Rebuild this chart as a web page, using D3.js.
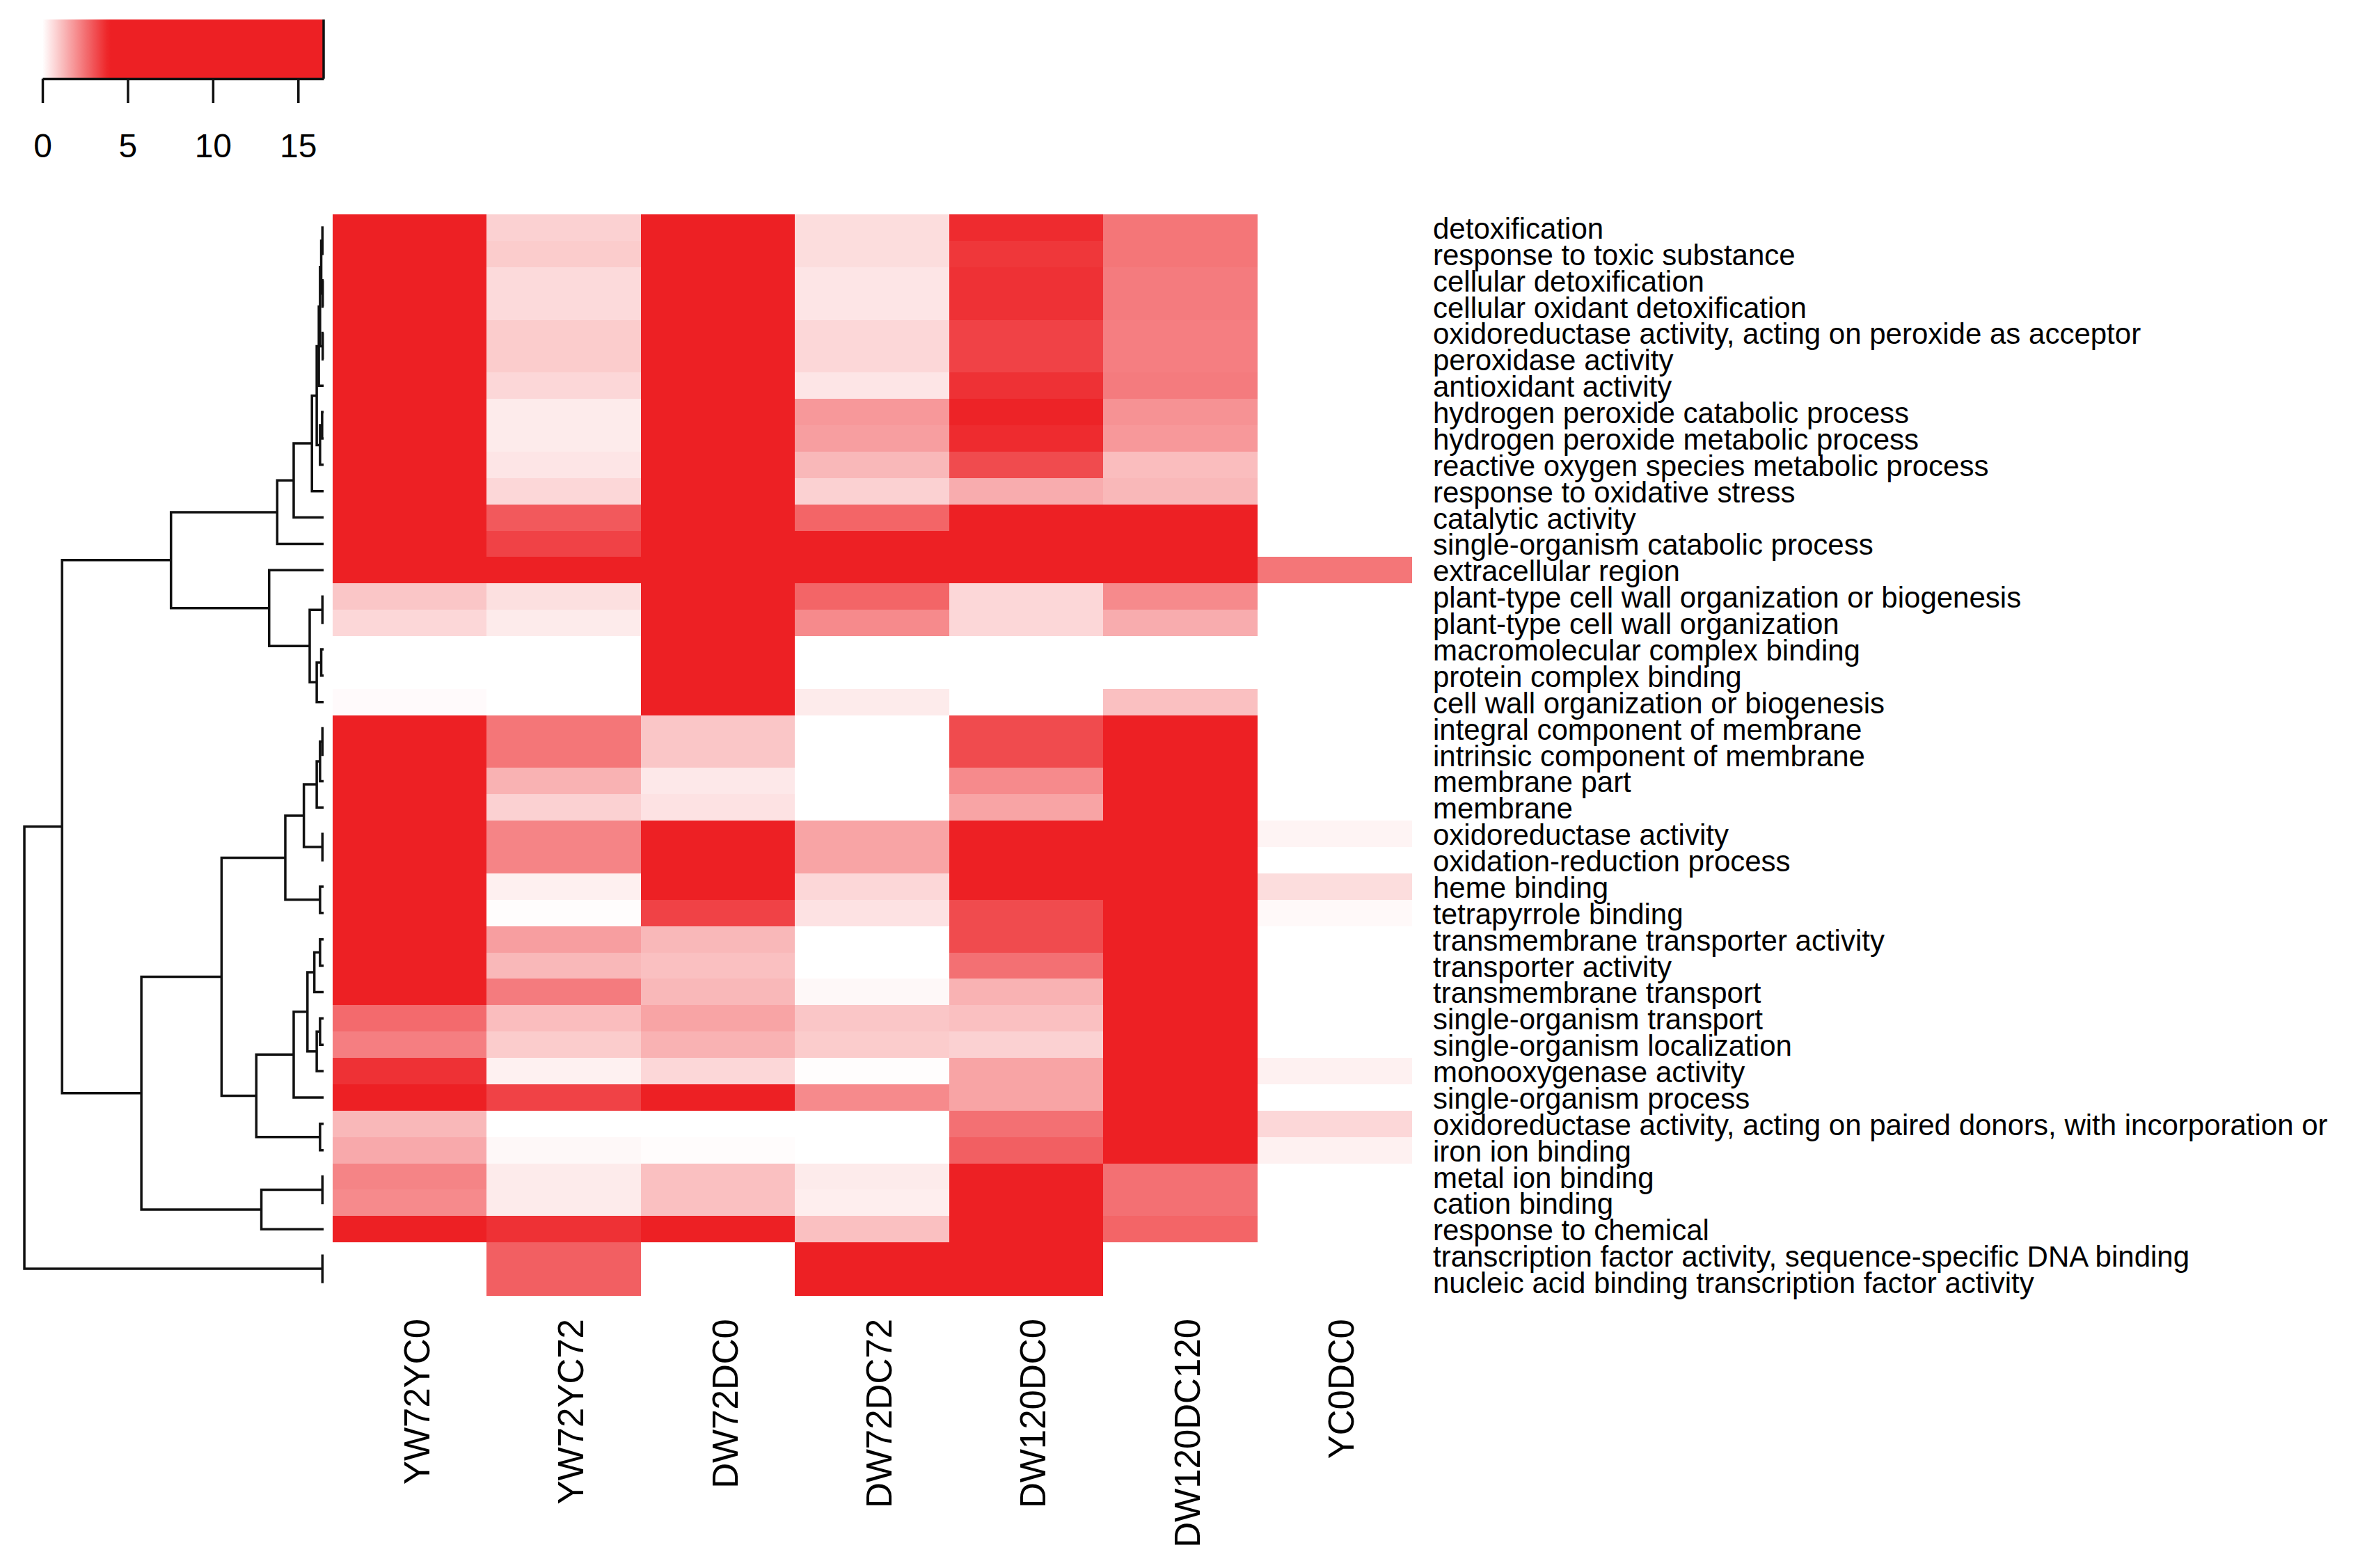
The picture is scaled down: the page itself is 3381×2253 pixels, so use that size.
<!DOCTYPE html>
<html>
<head>
<meta charset="utf-8">
<script src="https://cdn.jsdelivr.net/npm/d3@7"></script>
<style>
  body { margin: 0; background: #fff; }
  text { font-family: "Liberation Sans", Arial, sans-serif; fill: #000; }
</style>
</head>
<body>
<div id="graph"></div>
<script>
// GO terms (rows, top to bottom) and comparisons (columns)
const rowLabels = [
  'detoxification',
  'response to toxic substance',
  'cellular detoxification',
  'cellular oxidant detoxification',
  'oxidoreductase activity, acting on peroxide as acceptor',
  'peroxidase activity',
  'antioxidant activity',
  'hydrogen peroxide catabolic process',
  'hydrogen peroxide metabolic process',
  'reactive oxygen species metabolic process',
  'response to oxidative stress',
  'catalytic activity',
  'single-organism catabolic process',
  'extracellular region',
  'plant-type cell wall organization or biogenesis',
  'plant-type cell wall organization',
  'macromolecular complex binding',
  'protein complex binding',
  'cell wall organization or biogenesis',
  'integral component of membrane',
  'intrinsic component of membrane',
  'membrane part',
  'membrane',
  'oxidoreductase activity',
  'oxidation-reduction process',
  'heme binding',
  'tetrapyrrole binding',
  'transmembrane transporter activity',
  'transporter activity',
  'transmembrane transport',
  'single-organism transport',
  'single-organism localization',
  'monooxygenase activity',
  'single-organism process',
  'oxidoreductase activity, acting on paired donors, with incorporation or',
  'iron ion binding',
  'metal ion binding',
  'cation binding',
  'response to chemical',
  'transcription factor activity, sequence-specific DNA binding',
  'nucleic acid binding transcription factor activity'
]

const colLabels = ['YW72YC0', 'YW72YC72', 'DW72DC0', 'DW72DC72', 'DW120DC0', 'DW120DC120', 'YC0DC0']

// one array per column
const YW72YC0 = [12.1, 12.4, 11.8, 11.8, 11.5, 11.5, 10.9, 9.6, 9.6, 8.9, 7.2, 6.5, 8.1, 14.2,
  1.0, 0.7, 0, 0, 0.08,
  6.8, 6.8, 5.9, 5.9, 7.4, 7.4, 6.1, 6.1, 5.2, 5.2, 4.9,
  2.6, 2.25, 3.6, 4.6, 1.25, 1.5, 2.15, 2.05, 5.1, 0, 0]
const YW72YC72 = [0.8, 0.9, 0.65, 0.65, 0.9, 0.9, 0.7, 0.35, 0.35, 0.45, 0.7, 2.9, 3.3, 4.3,
  0.55, 0.35, 0, 0, 0,
  2.4, 2.4, 1.35, 0.8, 2.15, 2.15, 0.27, 0.03, 1.7, 1.25, 2.3,
  1.15, 0.9, 0.25, 3.3, 0, 0.12, 0.35, 0.35, 3.6, 2.8, 2.8]
const DW72DC0 = [16.3, 16.3, 15.9, 15.9, 15.2, 15.2, 14.8, 13.1, 13.1, 12.6, 10.4, 8.7, 9.9, 11.2,
  9.3, 9.3, 15.7, 15.7, 12.8,
  1.0, 1.0, 0.4, 0.5, 5.6, 5.6, 4.4, 3.3, 1.25, 1.1, 1.25,
  1.6, 1.35, 0.7, 4.2, 0, 0.05, 1.1, 1.1, 4.0, 0, 0]
const DW72DC72 = [0.6, 0.6, 0.45, 0.45, 0.7, 0.7, 0.45, 1.8, 1.7, 1.25, 0.8, 2.7, 4.5, 6.2,
  2.7, 2.05, 0, 0, 0.35,
  0, 0, 0, 0, 1.6, 1.6, 0.7, 0.5, 0, 0, 0.12,
  1.0, 0.9, 0.04, 2.05, 0, 0, 0.35, 0.3, 1.1, 5.4, 5.4]
const DW120DC0 = [3.7, 3.5, 3.6, 3.6, 3.3, 3.3, 3.6, 3.85, 3.7, 3.15, 1.45, 4.8, 5.6, 7.3,
  0.7, 0.7, 0, 0, 0,
  3.15, 3.15, 2.05, 1.6, 5.3, 5.3, 4.6, 3.15, 3.15, 2.5, 1.35,
  1.1, 0.8, 1.6, 1.6, 2.5, 2.8, 6.9, 6.9, 5.8, 4.7, 4.7]
const DW120DC120 = [2.4, 2.4, 2.3, 2.3, 2.25, 2.25, 2.3, 1.9, 1.8, 1.15, 1.25, 4.4, 5.0, 6.6,
  2.05, 1.45, 0, 0, 1.1,
  8.2, 8.2, 7.5, 7.5, 9.1, 9.1, 8.4, 8.4, 7.7, 7.7, 7.1,
  6.2, 6.2, 5.7, 5.4, 6.5, 6.5, 2.5, 2.5, 2.7, 0, 0]
const YC0DC0 = [0, 0, 0, 0, 0, 0, 0, 0, 0, 0, 0, 0, 0, 2.4,
  0, 0, 0, 0, 0,
  0, 0, 0, 0, 0.2, 0, 0.6, 0.1, 0, 0, 0,
  0, 0, 0.25, 0, 0.7, 0.25, 0, 0, 0, 0, 0]

// row dendrogram, hclust style: negative = leaf (row number), positive = earlier merge
const mergeLeft = [-1, -3, 1, -5, 3, 5, -8, 7, 6, 9, 10, 11, -15, -17, 14, 13, -14, 12,
  -20, 19, 20, -24, 21, -26, 23, -28, 26, -31, 28, 27, 30, -35, 31, 25, -37, 35, 34, 18, -40, 38]
const mergeRight = [-2, -4, 2, -6, 4, -7, -9, -10, 8, -11, -12, -13, -16, -18, -19, 15, 16, 17,
  -21, -22, -23, -25, 22, -27, 24, -29, -30, -32, -33, 29, -34, -36, 32, 33, -38, -39, 36, 37, -41, 39]
const mergeHeight = [0.004, 0.003, 0.008, 0.003, 0.012, 0.016, 0.005, 0.012, 0.023, 0.039, 0.10, 0.155,
  0.004, 0.008, 0.023, 0.0465, 0.182, 0.51,
  0.004, 0.012, 0.023, 0.004, 0.066, 0.012, 0.128, 0.012, 0.031, 0.012, 0.023, 0.054, 0.10,
  0.012, 0.225, 0.341, 0.004, 0.208, 0.609, 0.874, 0.004, 1.0]

const keyTicks = [0, 5, 10, 15]
const keyMax = 16.5

const columns = [YW72YC0, YW72YC72, DW72DC0, DW72DC72, DW120DC0, DW120DC120, YC0DC0]
const cells = []
columns.forEach((col, j) => {
  col.forEach((v, i) => cells.push({ row: i, col: colLabels[j], value: v }))
})

const totalWidth = 3381
const totalHeight = 2253

const svg = d3.select('#graph').append('svg')
  .attr('width', totalWidth)
  .attr('height', totalHeight)
  .style('display', 'block')
  .style('background-color', '#fff')

const x = d3.scaleBand().domain(colLabels).range([478, 2028])
const y = d3.scaleBand().domain(d3.range(rowLabels.length)).range([308, 1861])
const color = d3.scaleLinear()
  .domain([0, 3.9, keyMax])
  .range(['#ffffff', '#ed2024', '#ed2024'])
  .interpolate(d3.interpolateRgb)
  .clamp(true)

// heatmap cells
svg.append('g')
  .selectAll('rect')
  .data(cells)
  .enter()
  .append('rect')
  .attr('x', d => x(d.col))
  .attr('y', d => y(d.row))
  .attr('width', x.bandwidth() + 0.6)
  .attr('height', y.bandwidth() + 0.6)
  .attr('fill', d => color(d.value))
  .attr('shape-rendering', 'crispEdges')

// row labels
svg.append('g')
  .selectAll('text')
  .data(rowLabels)
  .enter()
  .append('text')
  .attr('x', 2059)
  .attr('y', (d, i) => y(i) + y.bandwidth() / 2 + 16)
  .style('font-size', '42px')
  .text(d => d)

// column labels, rotated
svg.append('g')
  .selectAll('text')
  .data(colLabels)
  .enter()
  .append('text')
  .attr('transform', d => `translate(${x(d) + x.bandwidth() / 2 + 28}, 1895) rotate(-90)`)
  .attr('text-anchor', 'end')
  .style('font-size', '51px')
  .text(d => d)

// dendrogram
const hx = d3.scaleLinear().domain([0, 1]).range([465, 35])
const nodes = []
function nodeOf(k) {
  if (k < 0) return { pos: y(-k - 1) + y.bandwidth() / 2, h: 0 }
  return nodes[k - 1]
}
const branches = []
mergeLeft.forEach((l, k) => {
  let a = nodeOf(l)
  let b = nodeOf(mergeRight[k])
  let h = mergeHeight[k]
  nodes.push({ pos: (a.pos + b.pos) / 2, h: h })
  branches.push({ a: a, b: b, h: h })
})

svg.append('g')
  .selectAll('path')
  .data(branches)
  .enter()
  .append('path')
  .attr('fill', 'none')
  .attr('stroke', '#111')
  .attr('stroke-width', 3.5)
  .attr('d', d => `M${hx(d.a.h)},${d.a.pos}H${hx(d.h)}V${d.b.pos}H${hx(d.b.h)}`)

// colour key
const lx = d3.scaleLinear().domain([0, keyMax]).range([61, 465])
const grad = svg.append('defs').append('linearGradient')
  .attr('id', 'keygrad')
  .attr('x1', '0%').attr('x2', '100%')
d3.range(0, keyMax + 0.01, 0.25).forEach(v => {
  grad.append('stop')
    .attr('offset', (v / keyMax * 100) + '%')
    .attr('stop-color', color(v))
})
svg.append('rect')
  .attr('x', lx(0))
  .attr('y', 28)
  .attr('width', lx(keyMax) - lx(0))
  .attr('height', 85)
  .attr('fill', 'url(#keygrad)')
svg.append('line')
  .attr('x1', lx(keyMax)).attr('x2', lx(keyMax))
  .attr('y1', 28).attr('y2', 113)
  .attr('stroke', '#111')
  .attr('stroke-width', 3.5)

const keyAxis = svg.append('g')
  .attr('transform', 'translate(0, 113)')
  .call(d3.axisBottom(lx).tickValues(keyTicks).tickSize(35).tickSizeOuter(0).tickPadding(44))
keyAxis.selectAll('path, line').attr('stroke', '#111').attr('stroke-width', 3.5)
keyAxis.selectAll('text')
  .style('font-family', '"Liberation Sans", Arial, sans-serif')
  .style('font-size', '48px')
  .attr('fill', '#000')
</script>
</body>
</html>
